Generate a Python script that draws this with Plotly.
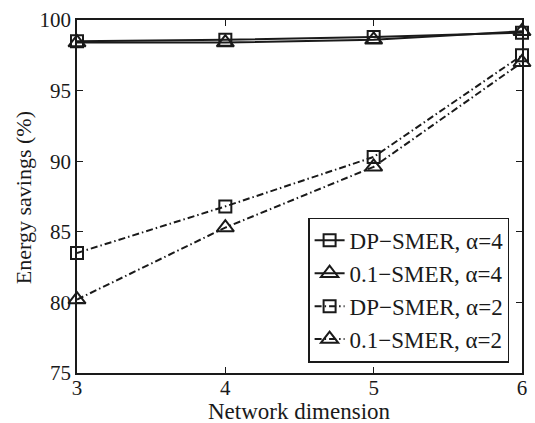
import plotly.graph_objects as go

dims = [3, 4, 5, 6]
dp_a4 = [98.5, 98.6, 98.8, 99.1]
smer_a4 = [98.4, 98.4, 98.6, 99.2]
dp_a2 = [83.5, 86.8, 90.3, 97.5]
smer_a2 = [80.2, 85.3, 89.6, 97.0]

names = ["DP\u2212SMER, \u03b1=4", "0.1\u2212SMER, \u03b1=4",
         "DP\u2212SMER, \u03b1=2", "0.1\u2212SMER, \u03b1=2"]
series = [dp_a4, smer_a4, dp_a2, smer_a2]
symbols = ["square-open", "triangle-up-open", "square-open", "triangle-up-open"]
sizes = [12, 15, 12, 15]
dashes = ["solid", "solid", "7px,3px,1.5px,3px", "7px,3px,1.5px,3px"]

FONT = "Liberation Serif, Times New Roman, serif"
col = "#1a1a1a"

fig = go.Figure()
for i, (n, ys) in enumerate(zip(names, series)):
    fig.add_trace(go.Scatter(
        x=dims, y=ys, name=n, mode="lines+markers",
        legendgroup=f"g{i}",
        line=dict(color=col, width=2, dash=dashes[i]),
        marker=dict(symbol=symbols[i], size=sizes[i], color=col,
                    line=dict(color=col, width=2)),
        cliponaxis=False,
    ))

axis_common = dict(
    showline=True, linecolor=col, linewidth=1.5, mirror="ticks",
    ticks="inside", ticklen=6, tickcolor=col, tickwidth=1,
    showgrid=False, zeroline=False,
    tickfont=dict(family=FONT, size=21, color=col),
)

fig.update_layout(
    width=535, height=423,
    margin=dict(l=77, r=8, t=17, b=50),
    paper_bgcolor="white", plot_bgcolor="white",
    font=dict(family=FONT, color=col),
    xaxis=dict(range=[3, 6], tickvals=[3, 4, 5, 6], ticklabelstandoff=-5, **axis_common),
    yaxis=dict(range=[75, 100], tickvals=[75, 80, 85, 90, 95, 100], **axis_common),
    legend=dict(x=0.52, y=0.44, xanchor="left", yanchor="top",
                bgcolor="white", bordercolor=col, borderwidth=1.2,
                font=dict(family=FONT, size=23, color=col),
                tracegroupgap=0, itemwidth=30),
    showlegend=True,
    annotations=[
        dict(text="Network dimension", xref="paper", yref="paper",
             x=0.5, y=-0.108, xanchor="center", yanchor="middle",
             showarrow=False, font=dict(family=FONT, size=23, color=col)),
        dict(text="Energy savings (%)", xref="paper", yref="paper",
             x=-0.12, y=0.497, xanchor="center", yanchor="middle", textangle=-90,
             showarrow=False, font=dict(family=FONT, size=22, color=col)),
    ],
)

fig.write_html("out.html", config={"displayModeBar": False},
               post_script="document.body.style.margin='0';")
